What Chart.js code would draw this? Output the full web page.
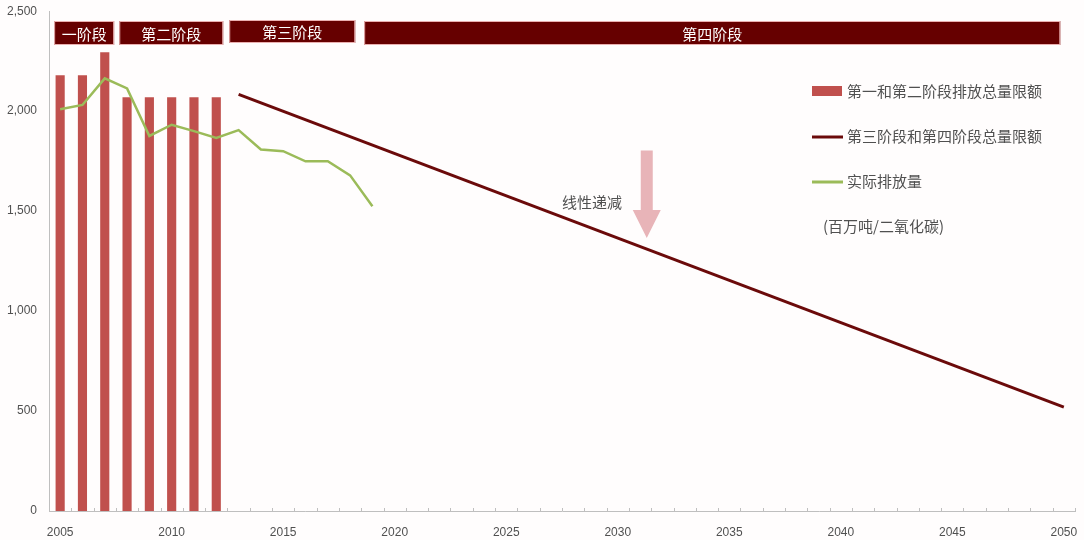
<!DOCTYPE html>
<html>
<head>
<meta charset="utf-8">
<script src="https://cdn.jsdelivr.net/npm/chart.js@4/dist/chart.umd.min.js"></script>
<style>
  html, body { margin: 0; padding: 0; background: #fffdfd; }
  #wrap { width: 1084px; height: 540px; }
</style>
</head>
<body>
<div id="wrap"><canvas id="chart" width="1084" height="540"></canvas></div>
<script>
const years = [
  '2005', '2006', '2007', '2008', '2009', '2010', '2011', '2012', '2013', '2014',
  '2015', '2016', '2017', '2018', '2019', '2020', '2021', '2022', '2023', '2024',
  '2025', '2026', '2027', '2028', '2029', '2030', '2031', '2032', '2033', '2034',
  '2035', '2036', '2037', '2038', '2039', '2040', '2041', '2042', '2043', '2044',
  '2045', '2046', '2047', '2048', '2049', '2050'
];

// phase 1 & 2 caps, 2005-2012
const capPhase12 = [2180, 2180, 2295, 2070, 2070, 2070, 2070, 2070];

// phase 3 & 4 cap: linear decline, only the two end points are known
const capPhase34Start = { year: '2013', value: 2084 };
const capPhase34End = { year: '2050', value: 520 };

// verified emissions, 2005-2019
const actual = [2010, 2031, 2164, 2114, 1876, 1932, 1900, 1866, 1905, 1808, 1800, 1749, 1750, 1679, 1524];

const phases = [
  { label: '一阶段', from: 2004.73, to: 2007.42 },
  { label: '第二阶段', from: 2007.65, to: 2012.31 },
  { label: '第三阶段', from: 2012.58, to: 2018.23 },
  { label: '第四阶段', from: 2018.63, to: 2049.84 }
];

const yTicks = [0, 500, 1000, 1500, 2000, 2500];

const colors = {
  bar: '#c0504d',
  cap: '#6b0a0a',
  actual: '#9bbb59',
  phase: '#660000',
  arrow: '#e8b4b8',
  text: '#505050'
};

const font = '"Liberation Sans", "Noto Sans CJK SC", sans-serif';
const cjk = '"Noto Sans CJK SC", "Liberation Sans", sans-serif';

function padTo(arr) {
  return years.map((_, i) => (i < arr.length ? arr[i] : null));
}

function capSeries() {
  return years.map((y) => {
    if (y === capPhase34Start.year) return capPhase34Start.value;
    if (y === capPhase34End.year) return capPhase34End.value;
    return null;
  });
}

// pixel for a fractional year on the category scale
function yearPx(xs, year) {
  const i = year - 2005;
  const lo = Math.floor(i);
  const p0 = xs.getPixelForValue(lo);
  const p1 = xs.getPixelForValue(lo + 1);
  return p0 + (p1 - p0) * (i - lo);
}

const decor = {
  id: 'decor',
  beforeDraw(chart) {
    const c = chart.ctx;
    c.save();
    c.fillStyle = '#fffdfd';
    c.fillRect(0, 0, chart.width, chart.height);
    c.restore();
  },
  afterDraw(chart) {
    const c = chart.ctx;
    const xs = chart.scales.x;
    const ys = chart.scales.y;
    const area = chart.chartArea;
    c.save();

    // inner ticks on x axis at category boundaries
    c.strokeStyle = '#bfbfbf';
    c.lineWidth = 1;
    const step = xs.getPixelForValue(1) - xs.getPixelForValue(0);
    for (let i = 0; i <= years.length; i++) {
      const x = Math.round(xs.getPixelForValue(0) - step / 2 + i * step) + 0.5;
      c.beginPath();
      c.moveTo(x, area.bottom);
      c.lineTo(x, area.bottom - 3);
      c.stroke();
    }

    // phase boxes
    phases.forEach((p, i) => {
      const x0 = yearPx(xs, p.from);
      const x1 = yearPx(xs, p.to);
      const top = i === 2 ? 20 : 21;
      const h = i === 2 ? 23 : 24;
      c.fillStyle = colors.phase;
      c.fillRect(x0, top, x1 - x0, h);
      c.strokeStyle = '#eab0b0';
      c.lineWidth = 1;
      c.strokeRect(x0 + 0.5, top + 0.5, x1 - x0 - 1, h - 1);
      c.fillStyle = '#ffffff';
      c.font = '15px ' + cjk;
      c.textAlign = 'center';
      c.textBaseline = 'middle';
      c.fillText(p.label, (x0 + x1) / 2, top + h / 2 + 1);
    });

    // arrow for linear decline
    const ax = yearPx(xs, 2031.3);
    const aTop = ys.getPixelForValue(1803);
    const aNeck = ys.getPixelForValue(1505);
    const aTip = ys.getPixelForValue(1365);
    c.fillStyle = colors.arrow;
    c.beginPath();
    c.moveTo(ax - 6, aTop);
    c.lineTo(ax + 6, aTop);
    c.lineTo(ax + 6, aNeck);
    c.lineTo(ax + 14, aNeck);
    c.lineTo(ax, aTip);
    c.lineTo(ax - 14, aNeck);
    c.lineTo(ax - 6, aNeck);
    c.closePath();
    c.fill();

    c.fillStyle = colors.text;
    c.font = '15px ' + cjk;
    c.textAlign = 'left';
    c.textBaseline = 'middle';
    c.fillText('线性递减', 562, 202);

    // legend
    const ds = chart.data.datasets;
    const lx = 812;
    const rows = [
      { d: ds[2], y: 91, type: 'box' },
      { d: ds[0], y: 136, type: 'line' },
      { d: ds[1], y: 181, type: 'line' }
    ];
    rows.forEach((r) => {
      if (r.type === 'box') {
        c.fillStyle = r.d.backgroundColor;
        c.fillRect(lx, r.y - 5, 30, 10);
      } else {
        c.strokeStyle = r.d.borderColor;
        c.lineWidth = 3;
        c.beginPath();
        c.moveTo(lx, r.y + 1);
        c.lineTo(lx + 31, r.y + 1);
        c.stroke();
      }
      c.fillStyle = colors.text;
      c.font = '15px ' + cjk;
      c.fillText(r.d.label, lx + 35, r.y);
    });
    c.fillText('(百万吨/二氧化碳)', 823, 226);

    c.restore();
  }
};

new Chart(document.getElementById('chart'), {
  type: 'bar',
  data: {
    labels: years,
    datasets: [
      {
        type: 'line',
        label: '第三阶段和第四阶段总量限额',
        data: capSeries(),
        borderColor: colors.cap,
        borderWidth: 3,
        pointRadius: 0,
        spanGaps: true,
        order: 1
      },
      {
        type: 'line',
        label: '实际排放量',
        data: padTo(actual),
        borderColor: colors.actual,
        borderWidth: 2.5,
        pointRadius: 0,
        tension: 0,
        order: 0
      },
      {
        label: '第一和第二阶段排放总量限额',
        data: padTo(capPhase12),
        backgroundColor: colors.bar,
        barPercentage: 0.41,
        categoryPercentage: 1,
        order: 2
      }
    ]
  },
  options: {
    responsive: false,
    animation: false,
    layout: { padding: { top: 0, right: 9, left: 0, bottom: 0 } },
    plugins: {
      legend: { display: false },
      tooltip: { enabled: false }
    },
    scales: {
      x: {
        offset: true,
        grid: { display: false },
        border: { display: true, color: '#bfbfbf', width: 1 },
        ticks: {
          autoSkip: false,
          maxRotation: 0,
          padding: 6,
          color: colors.text,
          font: { family: font, size: 12 },
          callback(v, i) {
            const y = years[i];
            return Number(y) % 5 === 0 ? y : '';
          }
        },
        afterFit(scale) { scale.height = 29; }
      },
      y: {
        min: 0,
        max: 2500,
        afterBuildTicks(scale) { scale.ticks = yTicks.map((v) => ({ value: v })); },
        grid: { display: false },
        border: { display: true, color: '#bfbfbf', width: 1 },
        ticks: {
          padding: 4,
          color: colors.text,
          font: { family: font, size: 12 },
          callback: (v) => v.toLocaleString('en-US')
        },
        afterFit(scale) { scale.width = 49; }
      }
    }
  },
  plugins: [decor]
});
</script>
</body>
</html>
